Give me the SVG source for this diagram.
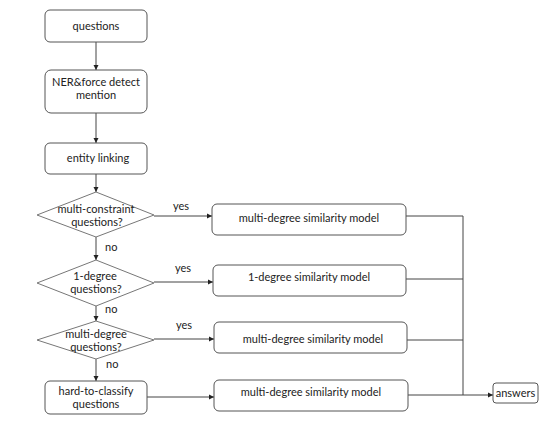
<svg xmlns="http://www.w3.org/2000/svg" width="559" height="428" viewBox="0 0 559 428">
<defs>
<marker id="ah" markerWidth="6" markerHeight="6" refX="5" refY="3" orient="auto" markerUnits="userSpaceOnUse">
<path d="M0,0.5 L5,3 L0,5.5 Z" fill="#222"/>
</marker>
<style>
.box{fill:#fff;stroke:#555;stroke-width:1}
.dia{fill:#fff;stroke:#777;stroke-width:1}
.t{font-family:Lato,"Noto Sans",sans-serif;font-size:11px;fill:#222;text-anchor:middle}
.lbl{font-family:Lato,"Noto Sans",sans-serif;font-size:11px;fill:#222}
.c{fill:none;stroke:#444;stroke-width:1}
</style>
</defs>
<rect width="559" height="428" fill="#fff"/>
<g id="connectors">
<line class="c" x1="96" y1="42" x2="96" y2="70" marker-end="url(#ah)"/>
<line class="c" x1="96" y1="113" x2="96" y2="143" marker-end="url(#ah)"/>
<line class="c" x1="96" y1="174" x2="96" y2="192" marker-end="url(#ah)"/>
<line class="c" x1="96" y1="237" x2="96" y2="260" marker-end="url(#ah)"/>
<line class="c" x1="96" y1="306" x2="96" y2="321" marker-end="url(#ah)"/>
<line class="c" x1="96" y1="359" x2="96" y2="381" marker-end="url(#ah)"/>
<line class="c" x1="154" y1="216" x2="212" y2="216" marker-end="url(#ah)"/>
<line class="c" x1="154" y1="282" x2="213" y2="282" marker-end="url(#ah)"/>
<line class="c" x1="154" y1="339" x2="214" y2="339" marker-end="url(#ah)"/>
<line class="c" x1="147" y1="397" x2="214" y2="397" marker-end="url(#ah)"/>
<polyline class="c" points="406,216 463,216"/>
<polyline class="c" points="406,279 463,279"/>
<polyline class="c" points="407,340 463,340"/>
<line class="c" x1="463" y1="216" x2="463" y2="395"/>
<line class="c" x1="408" y1="395" x2="493" y2="395" marker-end="url(#ah)"/>
<text class="lbl" x="173" y="210">yes</text>
<text class="lbl" x="175" y="272">yes</text>
<text class="lbl" x="176" y="329">yes</text>
<text class="lbl" x="105" y="251">no</text>
<text class="lbl" x="105" y="313">no</text>
<text class="lbl" x="106" y="368">no</text>
</g>
<g id="questions">
<rect class="box" x="45" y="10" width="102" height="32" rx="5"/>
<text class="t" x="96" y="30">questions</text>
</g>
<g id="ner">
<rect class="box" x="45" y="70" width="102" height="43" rx="6"/>
<text class="t" x="96" y="86">NER&amp;force detect</text>
<text class="t" x="96" y="99">mention</text>
</g>
<g id="entity-linking">
<rect class="box" x="45" y="143" width="102" height="31" rx="5"/>
<text class="t" x="98" y="162">entity linking</text>
</g>
<g id="multi-constraint">
<polygon class="dia" points="96,192 154,215 96,237 37,215"/>
<text class="t" x="96" y="213">multi-constraint</text>
<text class="t" x="97" y="226">questions?</text>
</g>
<g id="one-degree">
<polygon class="dia" points="96,260 154,283 96,306 37,283"/>
<text class="t" x="95" y="280">1-degree</text>
<text class="t" x="96" y="293">questions?</text>
</g>
<g id="multi-degree">
<polygon class="dia" points="96,321 154,340 96,359 37,340"/>
<text class="t" x="96" y="338">multi-degree</text>
<text class="t" x="96" y="351">questions?</text>
</g>
<g id="hard-to-classify">
<rect class="box" x="45" y="381" width="102" height="33" rx="5"/>
<text class="t" x="96" y="395">hard-to-classify</text>
<text class="t" x="96" y="408">questions</text>
</g>
<g id="model1">
<rect class="box" x="212" y="204" width="194" height="31" rx="5"/>
<text class="t" x="309" y="222">multi-degree similarity model</text>
</g>
<g id="model2">
<rect class="box" x="213" y="265" width="193" height="31" rx="5"/>
<text class="t" x="309" y="281">1-degree similarity model</text>
</g>
<g id="model3">
<rect class="box" x="214" y="322" width="193" height="31" rx="5"/>
<text class="t" x="313" y="343">multi-degree similarity model</text>
</g>
<g id="model4">
<rect class="box" x="214" y="380" width="194" height="31" rx="5"/>
<text class="t" x="311" y="396">multi-degree similarity model</text>
</g>
<g id="answers">
<rect class="box" x="493" y="383" width="45" height="20" rx="3"/>
<text class="t" x="515.5" y="397">answers</text>
</g>
</svg>
